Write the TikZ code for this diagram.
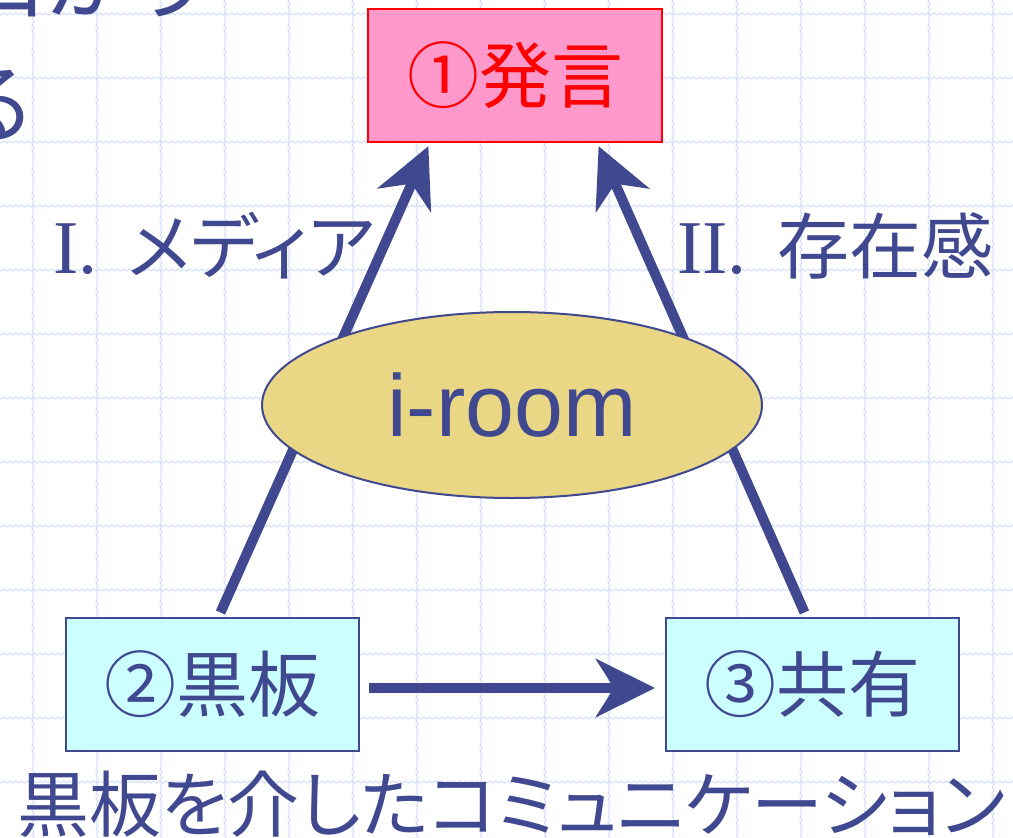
\documentclass[tikz,border=0pt]{standalone}
\usepackage{fontspec}
\setmainfont{Liberation Sans}
\newfontfamily\jp[RawFeature=+palt]{Noto Sans CJK JP}
\newfontfamily\jpm{Noto Sans CJK JP}
\newfontfamily\tms{Liberation Serif}
\newfontfamily\arl{Liberation Sans}
\newcommand\fsz[1]{\fontsize{#1}{#1}\selectfont}
\usetikzlibrary{arrows.meta,decorations.pathmorphing,shapes.geometric}
\definecolor{ink}{RGB}{64,72,144}
\definecolor{pinkf}{RGB}{255,153,204}
\definecolor{cyanf}{RGB}{204,255,255}
\definecolor{elf}{RGB}{234,215,133}
\definecolor{gridc}{RGB}{208,220,252}
\tikzset{
  gridline/.style={draw=gridc, line width=0.9pt, decorate, decoration={snake, amplitude=1pt, segment length=6pt}},
  pinkbox/.style={draw=red, line width=2pt, fill=pinkf, minimum width=294pt, minimum height=133pt, inner sep=0pt, text=red, font=\jpm\fsz{72}},
  cyanbox/.style={draw=ink, line width=2pt, fill=cyanf, minimum width=293pt, minimum height=133pt, inner sep=0pt, text=ink, font=\jpm\fsz{72}},
  elli/.style={ellipse, draw=ink, line width=2pt, fill=elf, minimum width=500pt, minimum height=186pt, inner sep=0pt, text=ink, font=\arl\fsz{88}},
  arr/.style={draw=ink, line width=10pt, -{Stealth[length=59pt,width=58pt,inset=18pt]}},
  lbl/.style={anchor=base west, inner sep=0pt, text=ink},
}
\begin{document}
\begin{tikzpicture}[x=1pt,y=-1pt]
\useasboundingbox (0,0) rectangle (1013,838);
\clip (0,0) rectangle (1013,838);
\fill[white] (0,0) rectangle (1013,838);
\foreach \i in {0,...,15} \draw[gridline] (33+64*\i,-10) -- (33+64*\i,850);
\foreach \j in {0,...,12} \draw[gridline] (-10,14+64*\j) -- (1025,14+64*\j);
% fragments of text cut at the edge
\node[lbl, font=\jp\fsz{88}] (fr1) at (-42,12) {口かり};
\node[anchor=base east, inner sep=0pt, text=ink, font=\jp\fsz{88}] (fr2) at (32,136) {る};
% boxes
\node[pinkbox] (b1) at (515,75) {①発言};
\node[cyanbox] (b2) at (212.5,684.5) {②黒板};
\node[cyanbox] (b3) at (812.5,684.5) {③共有};
% arrows
\draw[arr, shorten <=5pt, shorten >=4pt] ([xshift=6pt]b2.north) -- ([xshift=-85pt]b1.south);
\draw[arr, shorten <=5pt, shorten >=4pt] ([xshift=-6pt]b3.north) -- ([xshift=82pt]b1.south);
\draw[arr, shorten <=9pt, shorten >=10pt] ([yshift=-3.5pt]b2.east) -- ([yshift=-3.5pt]b3.west);
% ellipse
\node[elli] (ir) at (512,405) {i-room};
% labels
\node[lbl] (l1) at (53,273) {{\tms\fsz{76}I.}\hspace{30pt}{\jp\fsz{72}メディア}};
\node[lbl] (l2) at (677,273) {{\tms\fsz{76}II.}\hspace{31pt}{\jp\fsz{72}存在感}};
\node[lbl, font=\jp\fsz{72}] (cap) at (17,831) {黒板を介したコミュニケーション};
\end{tikzpicture}
\end{document}
